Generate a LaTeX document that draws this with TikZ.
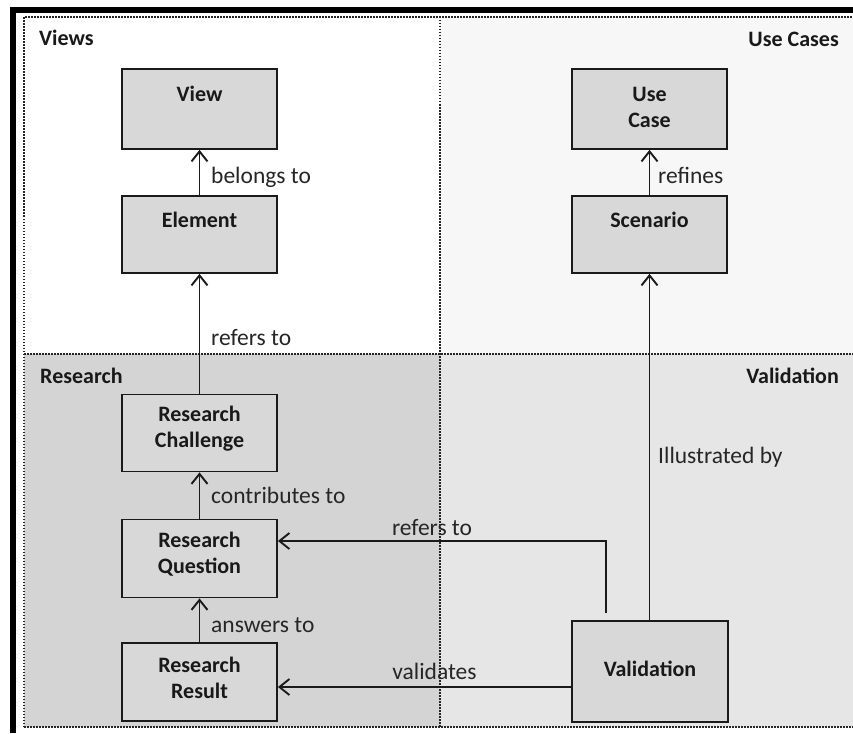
\documentclass[tikz,border=0pt]{standalone}
\usepackage{fontspec}
\setmainfont{Carlito}
\usetikzlibrary{arrows.meta}
\definecolor{bgTR}{HTML}{F7F7F7}
\definecolor{bgBL}{HTML}{D4D4D4}
\definecolor{bgBR}{HTML}{E6E6E6}
\definecolor{boxgray}{HTML}{D8D8D8}
\definecolor{linegray}{HTML}{1A1A1A}
\begin{document}
\begin{tikzpicture}[x=1pt,y=-1pt,
  font=\fontsize{22}{26}\selectfont,
  dotline/.style={line width=1.6pt, dash pattern=on 1.5pt off 1.5pt, draw=black!85},
  box/.style={draw=linegray, line width=1.8pt, fill=boxgray, rectangle, minimum width=155pt, inner sep=0pt},
  boxtext/.style={font=\fontsize{22}{26}\selectfont\bfseries, align=center, anchor=base, inner sep=0pt, text=black!90},
  header/.style={font=\fontsize{22}{26}\selectfont\bfseries, inner sep=0pt, text=black!90},
  lbl/.style={font=\fontsize{23.5}{28}\selectfont, anchor=base west, inner sep=0pt, text=black!85},
  arr/.style={draw=linegray, line width=1.9pt, -{Straight Barb[length=10pt,width=16pt]}},
  ln/.style={draw=linegray, line width=1.8pt}
]
\useasboundingbox (0,0) rectangle (853,733);
% quadrant backgrounds
\fill[white] (24,17) rectangle (440,354);
\fill[bgTR] (440,17) rectangle (853,354);
\fill[bgBL] (24,354) rectangle (440,727);
\fill[bgBR] (440,354) rectangle (853,727);
% dotted separators
\draw[dotline] (24,727) -- (24,17) -- (853,17);
\draw[dotline] (24,727) -- (853,727);
\draw[dotline] (440,17) -- (440,727);
\draw[dotline] (24,354) -- (853,354);
% thick black frame (left and top)
\fill[black] (10,7) rectangle (16,733);
\fill[black] (10,7) rectangle (853,13);
% headers
\node[header, anchor=base west] (hviews) at (39,46) {Views};
\node[header, anchor=base east] (huse) at (839,47) {Use Cases};
\node[header, anchor=base west] (hres) at (40,383) {Research};
\node[header, anchor=base east] (hval) at (839,383) {Validation};
% boxes
\node[box, minimum height=80pt] (view) at (199.5,109) {};
\node[box, minimum height=77pt] (element) at (199.5,234.5) {};
\node[box, minimum height=80pt] (usecase) at (649.5,109) {};
\node[box, minimum height=77pt] (scenario) at (649.5,234.5) {};
\node[box, minimum height=77pt] (rc) at (199.5,433) {};
\node[box, minimum height=78pt] (rq) at (199.5,558.5) {};
\node[box, minimum height=78pt] (rr) at (199.5,682) {};
\node[box, minimum width=156pt, minimum height=101pt] (val) at (650,671.5) {};
% box texts (base = baseline of last line)
\node[boxtext] (tview) at (199.5,102) {View};
\node[boxtext] (telement) at (199.5,227) {Element};
\node[boxtext] (tusecase) at (649.5,128) {Use\\Case};
\node[boxtext] (tscenario) at (649.5,227) {Scenario};
\node[boxtext] (trc) at (199.5,447) {Research\\Challenge};
\node[boxtext] (trq) at (199.5,573) {Research\\Question};
\node[boxtext] (trr) at (199.5,698) {Research\\Result};
\node[boxtext] (tval) at (650,676) {Validation};
% connectors
\draw[arr] (element.north) -- (view.south);
\draw[arr] (scenario.north) -- (usecase.south);
\draw[arr] (rc.north) -- (element.south);
\draw[arr] (rq.north) -- (rc.south);
\draw[arr] (rr.north) -- (rq.south);
\draw[arr] (scenario.south |- val.north) -- (scenario.south);
\coordinate (vq) at (606,613);
\coordinate (rqin) at ([yshift=17.5pt]rq.east);
\draw[arr] (vq) -- (vq |- rqin) -- (rqin);
\coordinate (valout) at ([yshift=-15.5pt]val.west);
\draw[arr] (valout) -- (valout -| rr.east);
% labels
\node[lbl] (lbelongs) at (211,183) {belongs to};
\node[lbl] (lrefines) at (658,183) {refines};
\node[lbl] (lrefers1) at (211,345) {refers to};
\node[lbl] (lcontrib) at (211,503) {contributes to};
\node[lbl] (lanswers) at (211,632) {answers to};
\node[lbl] (lillus) at (658,463) {Illustrated by};
\node[lbl, anchor=base] (lrefers2) at (432,535) {refers to};
\node[lbl, anchor=base] (lvalid) at (434.5,679) {validates};
\end{tikzpicture}
\end{document}
